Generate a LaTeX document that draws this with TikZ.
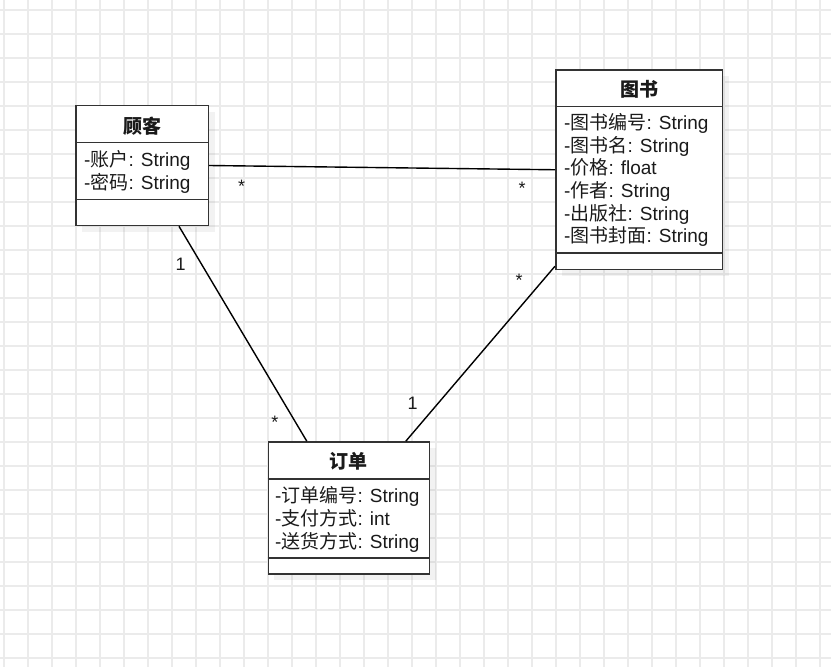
\documentclass[tikz,border=0pt]{standalone}
\usepackage{fontspec}
\setmainfont{Liberation Sans}
\newfontfamily\cjk{Noto Sans CJK SC}
\usetikzlibrary{calc}
\definecolor{gridc}{HTML}{EBEBEB}
\definecolor{boxc}{HTML}{333333}
\definecolor{txtc}{HTML}{1A1A1A}
\begin{document}
\begin{tikzpicture}[x=1pt,y=-1pt,
  umlbox/.style={draw=boxc, line width=1.6pt, fill=white, inner sep=0pt, rectangle},
  sep/.style={draw=boxc, line width=1.5pt},
  shadowbox/.style={fill=black, fill opacity=0.05},
  title/.style={font=\cjk\bfseries\fontsize{19}{23}\selectfont, text=txtc, inner sep=0pt},
  attr/.style={font=\fontsize{19}{23}\selectfont, text=txtc, anchor=base west, inner sep=0pt},
  conn/.style={draw=black, line width=1.4pt},
  mult/.style={font=\fontsize{18}{22}\selectfont, text=txtc, anchor=base, inner sep=0pt}]
\useasboundingbox (0,0) rectangle (831,667);
\fill[white] (0,0) rectangle (831,667);
\foreach \x in {4,28,...,820} \draw[gridc, line width=1.5pt] (\x,0) -- (\x,667);
\foreach \y in {10,34,...,658} \draw[gridc, line width=1.5pt] (0,\y) -- (831,\y);

% shadows
\fill[shadowbox] (82,112) rectangle (215,232);
\fill[shadowbox] (562,76) rectangle (729,276);
\fill[shadowbox] (274,448) rectangle (436,580);

% 顾客
\node[umlbox, minimum width=132.6pt, minimum height=120pt] (gk) at (142,165.5) {};
\draw[sep] ($(gk.north west)+(0,38)$) -- ($(gk.north east)+(0,38)$);
\draw[sep] ($(gk.north west)+(0,95)$) -- ($(gk.north east)+(0,95)$);
\node[title] (gkt) at (142,126) {顾客};
\node[attr] (gka1) at (84,166.3) {-{\cjk 账户}: String};
\node[attr] (gka2) at (84,189.2) {-{\cjk 密码}: String};

% 图书
\node[umlbox, minimum width=166.6pt, minimum height=199.5pt] (ts) at (639,169.75) {};
\draw[sep] ($(ts.north west)+(0,37.3)$) -- ($(ts.north east)+(0,37.3)$);
\draw[sep] ($(ts.north west)+(0,184)$) -- ($(ts.north east)+(0,184)$);
\node[title] (tst) at (639,89.5) {图书};
\node[attr] (tsa1) at (564,129.6) {-{\cjk 图书编号}: String};
\node[attr] (tsa2) at (564,152.2) {-{\cjk 图书名}: String};
\node[attr] (tsa3) at (564,174.8) {-{\cjk 价格}: float};
\node[attr] (tsa4) at (564,197.4) {-{\cjk 作者}: String};
\node[attr] (tsa5) at (564,220) {-{\cjk 出版社}: String};
\node[attr] (tsa6) at (564,242.6) {-{\cjk 图书封面}: String};

% 订单
\node[umlbox, minimum width=161pt, minimum height=132pt] (dd) at (348.8,508) {};
\draw[sep] ($(dd.north west)+(0,38)$) -- ($(dd.north east)+(0,38)$);
\draw[sep] ($(dd.north west)+(0,117)$) -- ($(dd.north east)+(0,117)$);
\node[title] (ddt) at (348.8,461.3) {订单};
\node[attr] (dda1) at (275,502.4) {-{\cjk 订单编号}: String};
\node[attr] (dda2) at (275,525.4) {-{\cjk 支付方式}: int};
\node[attr] (dda3) at (275,548.4) {-{\cjk 送货方式}: String};

% connectors
\draw[conn] (gk.east) -- (ts.west);
\draw[conn] ([xshift=37pt]gk.south) -- ([xshift=-42pt]dd.north);
\draw[conn] ([yshift=4pt]ts.south west) -- ([xshift=57pt]dd.north);

% multiplicities
\node[mult] (m1) at (241.7,192) {*};
\node[mult] (m2) at (522,194) {*};
\node[mult] (m3) at (180.7,270) {1};
\node[mult] (m4) at (275,428) {*};
\node[mult] (m5) at (519,286) {*};
\node[mult] (m6) at (412.7,409.5) {1};
\end{tikzpicture}
\end{document}
